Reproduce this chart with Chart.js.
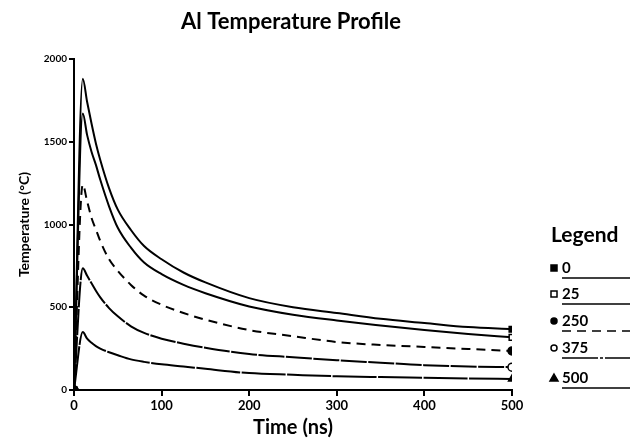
<!DOCTYPE html>
<html>
<head>
<meta charset="utf-8">
<script src="https://cdn.jsdelivr.net/npm/chart.js@4"></script>
<style>
  body { margin: 0; background: #fff; }
</style>
</head>
<body>
<canvas id="myChart" width="634" height="440"></canvas>
<script>
// -------------------
// DATA

const times = [0, 10, 15, 20, 25, 30, 40, 50, 65, 80, 100, 125, 150, 200, 250, 300, 350, 400, 450, 500];

const temp0 = [0, 1880, 1740, 1610, 1490, 1390, 1220, 1090, 967, 870, 790, 710, 650, 555, 500, 465, 430, 405, 380, 367];
const temp25 = [0, 1670, 1540, 1440, 1360, 1270, 1110, 980, 860, 770, 700, 635, 585, 505, 455, 420, 390, 362, 338, 318];
const temp250 = [0, 1240, 1140, 1040, 970, 900, 790, 720, 635, 570, 515, 465, 425, 362, 325, 290, 272, 260, 248, 236];
const temp375 = [0, 735, 690, 645, 600, 560, 495, 445, 385, 345, 310, 280, 255, 217, 198, 180, 165, 150, 142, 138];
const temp500 = [0, 350, 310, 285, 265, 250, 228, 210, 185, 170, 155, 142, 128, 102, 92, 83, 78, 74, 70, 66];

const seriesLabels = ["0", "25", "250", "375", "500"];
const yTicks = [0, 500, 1000, 1500, 2000];
const xTicks = [0, 100, 200, 300, 400, 500];

const FONT = "Lato, 'DejaVu Sans', sans-serif";

const toPoints = arr => arr.map((v, i) => ({ x: times[i], y: v }));

// marker only at first and last point
const endRadius = r => ctx => (ctx.dataIndex === 0 || ctx.dataIndex === times.length - 1) ? r : 0;

const styles = [
  { point: "rect", fill: "#000", dash: [], legendDash: [] },
  { point: "rect", fill: "#fff", dash: [], legendDash: [] },
  { point: "circle", fill: "#000", dash: [9, 6], legendDash: [9, 6] },
  { point: "circle", fill: "#fff", dash: [26, 1.5], legendDash: [36, 2, 3, 2] },
  { point: "triangle", fill: "#000", dash: [44, 1.5], legendDash: [] },
];

const allSeries = [temp0, temp25, temp250, temp375, temp500];

const datasets = allSeries.map((arr, i) => ({
  label: seriesLabels[i],
  data: toPoints(arr),
  borderColor: "#000",
  borderWidth: 2,
  borderDash: styles[i].dash,
  legendDash: styles[i].legendDash,
  pointStyle: styles[i].point,
  pointBackgroundColor: styles[i].fill,
  pointBorderColor: "#000",
  pointBorderWidth: 1.5,
  pointRadius: endRadius(4),
  cubicInterpolationMode: "monotone",
  fill: false,
}));

// -------------------
// TITLE + LEGEND (drawn by hand, the legend box sits right of the plot)

const extras = {
  id: "extras",
  afterDraw(chart) {
    const ctx = chart.ctx;
    ctx.save();
    ctx.fillStyle = "#000";
    ctx.textAlign = "center";
    ctx.textBaseline = "middle";
    ctx.font = "bold 22px " + FONT;
    ctx.fillText("Al Temperature Profile", 291, 22);

    ctx.font = "bold 21px " + FONT;
    ctx.textAlign = "left";
    ctx.fillText("Legend", 551, 235);

    const rows = [268, 294, 321, 348, 378];
    chart.data.datasets.forEach((ds, i) => {
      const y = rows[i];
      const mx = 554;
      ctx.lineWidth = 1.5;
      ctx.strokeStyle = "#000";
      ctx.fillStyle = ds.pointBackgroundColor;
      ctx.beginPath();
      if (ds.pointStyle === "rect") {
        ctx.rect(mx - 3, y - 3, 6, 6);
      } else if (ds.pointStyle === "circle") {
        ctx.arc(mx, y, 3, 0, Math.PI * 2);
      } else {
        ctx.moveTo(mx, y - 4);
        ctx.lineTo(mx + 4, y + 3);
        ctx.lineTo(mx - 4, y + 3);
        ctx.closePath();
      }
      ctx.fill();
      ctx.stroke();

      ctx.fillStyle = "#000";
      ctx.font = "bold 15px " + FONT;
      ctx.textAlign = "left";
      ctx.fillText(ds.label, 562, y);

      ctx.setLineDash(ds.legendDash);
      ctx.lineWidth = 1.5;
      ctx.beginPath();
      ctx.moveTo(562, y + 10);
      ctx.lineTo(630, y + 10);
      ctx.stroke();
      ctx.setLineDash([]);
    });
    ctx.restore();
  },
};

// -------------------
// CHART

const canvasHTML = document.getElementById("myChart");

const settings = {
  type: "line",
  data: { datasets: datasets },
  options: {
    responsive: false,
    animation: false,
    layout: { padding: { left: 0, right: 122, top: 59, bottom: 0 } },
    plugins: {
      legend: { display: false },
      title: { display: false },
      tooltip: { enabled: false },
    },
    scales: {
      x: {
        type: "linear",
        min: 0,
        max: 500,
        afterBuildTicks: axis => { axis.ticks = xTicks.map(v => ({ value: v })); },
        afterFit: axis => { axis.height = 50; },
        border: { display: true, color: "#000", width: 2 },
        grid: { display: true, drawOnChartArea: false, drawTicks: true, tickLength: 6, color: "#000", lineWidth: 2 },
        ticks: { color: "#000", font: { family: FONT, size: 13, weight: "bold" }, padding: 2, maxRotation: 0, callback: v => String(v) },
        title: { display: true, text: "Time (ns)", color: "#000", font: { family: FONT, size: 20, weight: "bold" }, padding: { top: 0, bottom: 0 } },
      },
      y: {
        min: 0,
        max: 2000,
        afterBuildTicks: axis => { axis.ticks = yTicks.map(v => ({ value: v })); },
        afterFit: axis => { axis.width = 74; },
        border: { display: true, color: "#000", width: 2 },
        grid: { display: true, drawOnChartArea: false, drawTicks: true, tickLength: 5, color: "#000", lineWidth: 2 },
        ticks: { color: "#000", font: { family: FONT, size: 10, weight: "bold" }, padding: 2, callback: v => String(v) },
        title: { display: true, text: "Temperature (°C)", color: "#000", font: { family: FONT, size: 14, weight: "bold" }, padding: { top: 16, bottom: 0 } },
      },
    },
  },
  plugins: [extras],
};

const tempChart = new Chart(canvasHTML, settings);
</script>
</body>
</html>
